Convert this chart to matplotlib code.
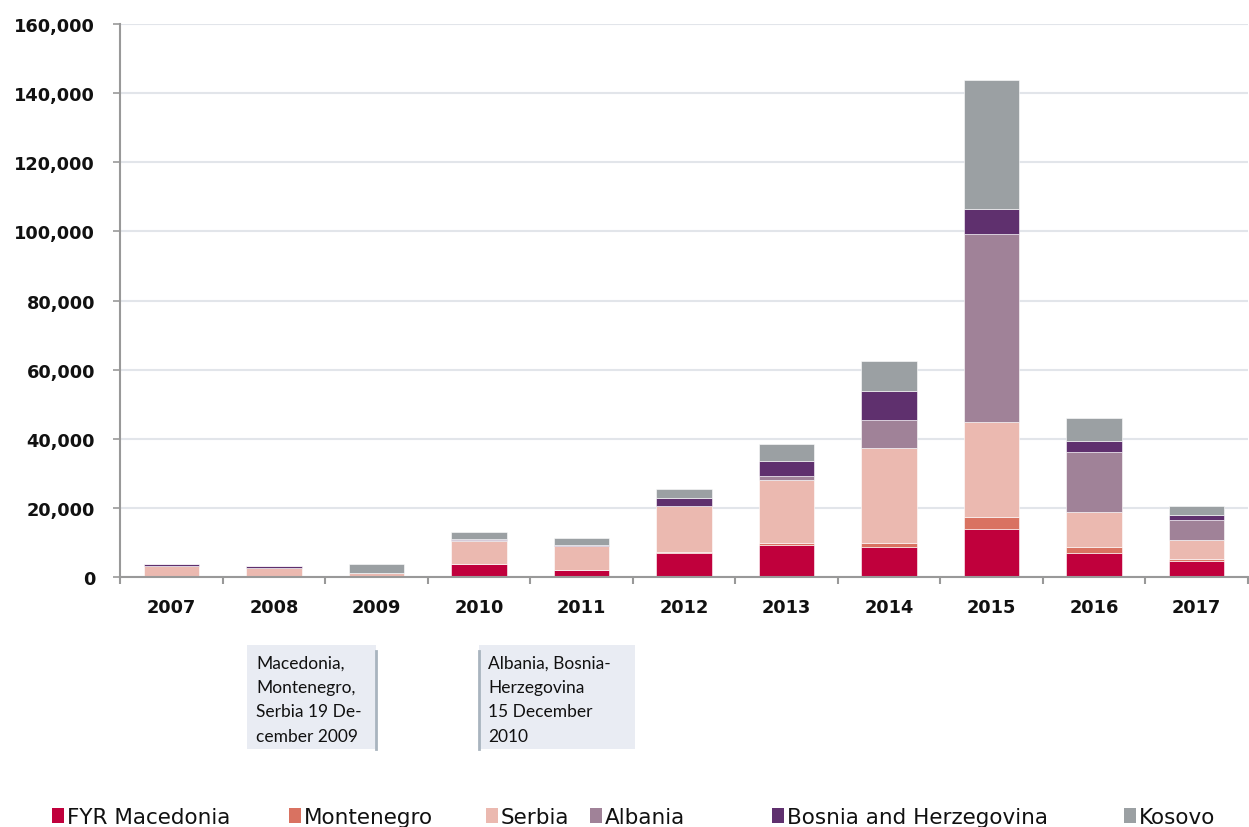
import numpy as np
import matplotlib
matplotlib.use('Agg')
import matplotlib.pyplot as plt
from matplotlib.patches import Rectangle
import matplotlib.transforms as mtransforms
from matplotlib.ticker import FuncFormatter

# Asylum applications per year (thousands)
years = ['2007', '2008', '2009', '2010', '2011', '2012', '2013', '2014', '2015', '2016', '2017']
macedonia = [0.0, 0.0, 0.0, 3.7, 1.9, 7.0, 9.3, 8.8, 14.0, 7.0, 4.7]
montenegro = [0.0, 0.0, 0.0, 0.1, 0.05, 0.2, 0.6, 1.1, 3.5, 1.8, 0.6]
serbia = [3.2, 2.5, 1.2, 6.7, 6.9, 13.2, 18.2, 27.3, 27.3, 9.9, 5.3]
albania = [0.0, 0.0, 0.0, 0.1, 0.1, 0.2, 1.1, 8.2, 54.5, 17.5, 5.8]
bosnia = [0.6, 0.6, 0.1, 0.4, 0.4, 2.3, 4.4, 8.4, 7.2, 3.2, 1.6]
kosovo = [0.0, 0.0, 2.4, 1.9, 1.9, 2.5, 4.8, 8.8, 37.3, 6.5, 2.5]

series_names = ['FYR Macedonia', 'Montenegro', 'Serbia', 'Albania', 'Bosnia and Herzegovina', 'Kosovo']
series_vals = [macedonia, montenegro, serbia, albania, bosnia, kosovo]
colors = ['#c0003c', '#d97261', '#ebb9b0', '#a08298', '#5f306e', '#9ba0a3']

note_1 = 'Macedonia,\nMontenegro,\nSerbia 19 De-\ncember 2009'
note_2 = 'Albania, Bosnia-\nHerzegovina\n15 December\n2010'

fig = plt.figure(figsize=(12.49, 8.28), dpi=100)
ax = fig.add_axes([120 / 1249, 1 - 578 / 828, 1128 / 1249, 553 / 828])

x = np.arange(len(years))
bottom = np.zeros(len(years))
for name, vals, col in zip(series_names, series_vals, colors):
    v = np.array(vals) * 1000
    ax.bar(x, v, width=0.54, bottom=bottom, color=col, edgecolor='white', linewidth=0.4, label=name)
    bottom += v

ax.set_xlim(-0.5, len(years) - 0.5)
ax.set_ylim(0, 160000)
ax.set_yticks(np.arange(0, 160001, 20000))
ax.yaxis.set_major_formatter(FuncFormatter(lambda v, p: f'{int(v):,}'))
ax.grid(axis='y', color='#e2e5ea', linewidth=1.5)
ax.set_axisbelow(True)

ax.set_xticks(x)
ax.set_xticklabels(years)
ax.set_xticks(np.arange(-0.5, len(years), 1.0), minor=True)
ax.tick_params(axis='x', which='major', length=0, pad=15)
ax.tick_params(axis='x', which='minor', length=5, width=1.5, color='#999999')
ax.tick_params(axis='y', length=5, width=1.2, color='#999999', pad=13)
for lab in ax.get_xticklabels() + ax.get_yticklabels():
    lab.set_fontweight('bold')
    lab.set_fontsize(12.8)
    lab.set_color('#111111')

for s in ['top', 'right']:
    ax.spines[s].set_visible(False)
for s in ['left', 'bottom']:
    ax.spines[s].set_color('#999999')
    ax.spines[s].set_linewidth(1.5)

# notes below the axis, pinned to 2009 and 2010
trans = mtransforms.blended_transform_factory(ax.transData, ax.transAxes)
ax.add_patch(Rectangle((0.74, -0.311), 2.0 - 0.74, 0.188, transform=trans,
                       facecolor='#e9ecf3', edgecolor='none', clip_on=False))
ax.add_patch(Rectangle((3.0, -0.311), 4.52 - 3.0, 0.188, transform=trans,
                       facecolor='#e9ecf3', edgecolor='none', clip_on=False))
for xv in [2.0, 3.0]:
    ax.plot([xv, xv], [-0.134, -0.311], transform=trans, color='#a9b4bf',
            linewidth=2, clip_on=False)
ax.text(0.83, -0.14, note_1, transform=trans, va='top', ha='left',
        fontsize=12.5, family='Lato', linespacing=1.65, color='#111111')
ax.text(3.09, -0.14, note_2, transform=trans, va='top', ha='left',
        fontsize=12.5, family='Lato', linespacing=1.65, color='#111111')

# legend laid out by hand
leg_x = [52, 289, 486, 590, 772, 1124]
for px, name, col in zip(leg_x, series_names, colors):
    fig.patches.append(Rectangle((px / 1249, 1 - 824 / 828), 12 / 1249, 15 / 828,
                                 transform=fig.transFigure, facecolor=col, edgecolor='none'))
    fig.text((px + 15) / 1249, 1 - 818 / 828, name, fontsize=15.5, va='center', ha='left',
             color='#111111')

fig.savefig('out.png', dpi=100)
